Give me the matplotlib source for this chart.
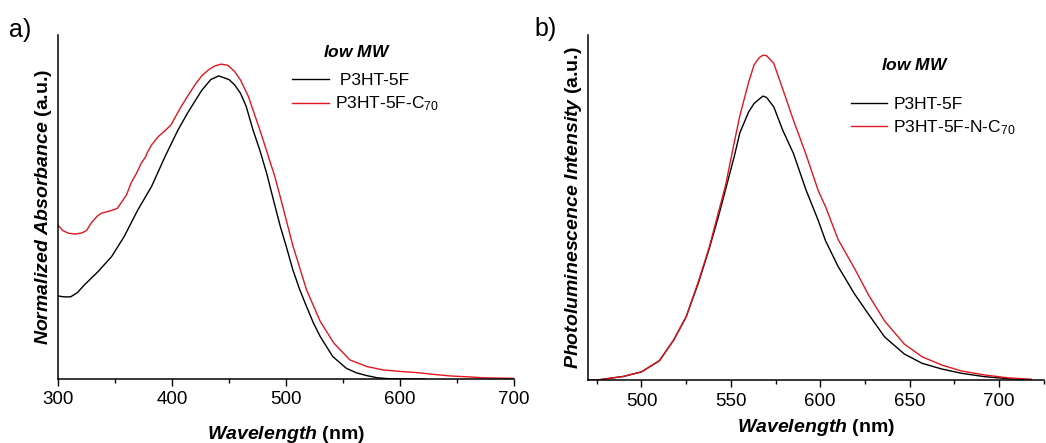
import matplotlib.pyplot as plt

plt.rcParams['font.family'] = ['Liberation Sans', 'DejaVu Sans']
plt.rcParams['mathtext.fontset'] = 'custom'
plt.rcParams['mathtext.rm'] = 'Liberation Sans'
plt.rcParams['mathtext.bf'] = 'Liberation Sans:bold'
plt.rcParams['mathtext.it'] = 'Liberation Sans:italic'
plt.rcParams['mathtext.bfit'] = 'Liberation Sans:italic:bold'

# panel a: absorbance (normalized to the P3HT-5F peak)
abs_wl = [300, 305, 311, 317, 323, 335, 347, 358, 370, 382, 394, 405, 414,
          426, 434, 441, 450, 455, 460, 465, 471, 477, 483, 489, 495, 500,
          506, 512, 518, 524, 530, 541, 553, 562, 571, 580, 590, 622]
abs_p3ht = [0.274, 0.271, 0.271, 0.285, 0.31, 0.354, 0.404, 0.47, 0.558,
            0.635, 0.735, 0.82, 0.88, 0.952, 0.988, 1.0, 0.988, 0.97, 0.943,
            0.90, 0.822, 0.755, 0.679, 0.59, 0.503, 0.44, 0.36, 0.295, 0.239,
            0.185, 0.14, 0.074, 0.035, 0.02, 0.011, 0.004, 0.001, 0.0]
abs_wl_c70 = [300, 304, 309, 315, 321, 325, 329, 334, 338, 343, 347, 352, 356,
              360, 364, 369, 373, 377, 378, 382, 388, 394, 399, 408, 414, 420,
              426, 432, 437, 443, 449, 455, 460, 467, 471, 478, 483, 490, 495,
              506, 518, 530, 542, 556, 571, 585, 600, 615, 630, 644, 660, 673,
              700]
abs_p3ht_c70 = [0.508, 0.49, 0.481, 0.478, 0.482, 0.49, 0.514, 0.536, 0.547,
                0.552, 0.556, 0.563, 0.585, 0.607, 0.646, 0.68, 0.712, 0.734,
                0.745, 0.772, 0.80, 0.82, 0.838, 0.899, 0.935, 0.97, 1.0,
                1.02, 1.032, 1.039, 1.035, 1.014, 0.987, 0.932, 0.888, 0.811,
                0.752, 0.67, 0.60, 0.44, 0.294, 0.19, 0.118, 0.063, 0.041,
                0.03, 0.025, 0.021, 0.015, 0.01, 0.007, 0.004, 0.002]

# panel b: photoluminescence (normalized to the P3HT-5F peak)
pl_wl = [470, 475, 490, 500, 510, 518, 525, 532, 538, 543, 547, 552, 555, 560,
         563, 566, 568, 570, 574, 579, 585, 592, 599, 603, 610, 619, 627, 636,
         647, 657, 668, 679, 692, 705, 718]
pl_p3ht = [0.0, 0.0, 0.013, 0.029, 0.068, 0.141, 0.223, 0.345, 0.465, 0.575,
           0.67, 0.79, 0.87, 0.945, 0.974, 0.99, 1.0, 0.995, 0.962, 0.88,
           0.798, 0.67, 0.56, 0.49, 0.40, 0.305, 0.232, 0.152, 0.092, 0.059,
           0.039, 0.024, 0.012, 0.005, 0.001]
pl_p3ht_c70 = [0.0, 0.0, 0.013, 0.029, 0.068, 0.141, 0.223, 0.35, 0.47, 0.59,
               0.685, 0.84, 0.93, 1.05, 1.11, 1.136, 1.144, 1.142, 1.115, 1.025,
               0.915, 0.795, 0.665, 0.61, 0.495, 0.395, 0.30, 0.208, 0.127,
               0.082, 0.053, 0.032, 0.018, 0.008, 0.003]

red = '#e3161d'
lw = 1.0

fig = plt.figure(figsize=(10.46, 4.43), dpi=100)
ax1 = fig.add_axes([0.0555, 0.1445, 0.4359, 0.7765])
ax2 = fig.add_axes([0.562, 0.142, 0.4358, 0.779])

for ax in (ax1, ax2):
    ax.spines['top'].set_visible(False)
    ax.spines['right'].set_visible(False)
    ax.spines['left'].set_linewidth(1.1)
    ax.spines['bottom'].set_linewidth(1.1)
    ax.set_yticks([])
    ax.tick_params(axis='x', which='major', length=5, width=1, labelsize=13.5,
                   pad=4)
    ax.tick_params(axis='x', which='minor', length=3, width=1)

ax1.plot(abs_wl, abs_p3ht, color='black', lw=lw, label=' P3HT-5F')
ax1.plot(abs_wl_c70, abs_p3ht_c70, color=red, lw=lw, label='P3HT-5F-C$_{70}$')
ax1.set_xlim(300, 700)
ax1.set_ylim(0, 1.135)
ax1.set_xticks([300, 400, 500, 600, 700])
ax1.set_xticks([350, 450, 550, 650], minor=True)
ax1.set_xlabel(r'$\mathbfit{Wavelength}$ (nm)', fontsize=14,
               fontweight='bold', labelpad=11)
ax1.set_ylabel(r'$\mathbfit{Normalized\ Absorbance}$ (a.u.)', fontsize=14,
               fontweight='bold', labelpad=3)
ax1.text(0.656, 0.952, r'$\mathbfit{low\ MW}$', transform=ax1.transAxes,
         fontsize=12.5, ha='center', va='center')
ax1.legend(loc='upper left', bbox_to_anchor=(0.495, 0.916), frameon=False,
           fontsize=12.5, handlelength=2.1, handletextpad=0.35,
           labelspacing=0.4, borderpad=0)

ax2.plot(pl_wl, pl_p3ht, color='black', lw=lw, label='P3HT-5F')
ax2.plot(pl_wl, pl_p3ht_c70, color=red, lw=lw, label='P3HT-5F-N-C$_{70}$')
ax2.set_xlim(470, 718)
ax2.set_ylim(0, 1.215)
ax2.set_xticks([500, 550, 600, 650, 700])
ax2.set_xticks([475, 525, 575, 625, 675, 725], minor=True)
ax2.set_xlabel(r'$\mathbfit{Wavelength}$ (nm)', fontsize=14,
               fontweight='bold', labelpad=5)
ax2.set_ylabel(r'$\mathbfit{Photoluminescence\ Intensity}$ (a.u.)',
               fontsize=14, fontweight='bold', labelpad=3)
ax2.text(0.718, 0.913, r'$\mathbfit{low\ MW}$', transform=ax2.transAxes,
         fontsize=12.5, ha='center', va='center')
ax2.legend(loc='upper left', bbox_to_anchor=(0.5575, 0.847), frameon=False,
           fontsize=12.5, handlelength=2.1, handletextpad=0.35,
           labelspacing=0.4, borderpad=0)

fig.text(0.009, 0.933, 'a)', fontsize=18, va='center')
fig.text(0.511, 0.935, 'b)', fontsize=18, va='center')

fig.savefig('out.png', dpi=100)
